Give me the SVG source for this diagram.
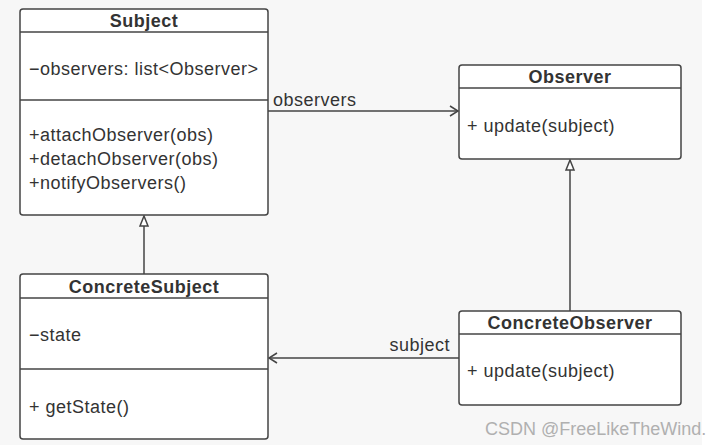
<svg xmlns="http://www.w3.org/2000/svg" width="726" height="445" viewBox="0 0 726 445">
<style>
.box{fill:#fff;stroke:#444;stroke-width:1.5}
.ln{stroke:#444;stroke-width:1.5;fill:none}
.t{font-family:"Liberation Sans",Arial,sans-serif;font-size:18px;fill:#333;letter-spacing:0.5px}
.b{font-weight:bold;text-anchor:middle;letter-spacing:0.5px}
.wm{font-family:"Liberation Sans",Arial,sans-serif;font-size:18px;fill:#b0b0b0}
</style>
<defs>
<marker id="open" markerWidth="12" markerHeight="12" refX="10" refY="6" orient="auto" markerUnits="userSpaceOnUse">
<path d="M2,1 L10,6 L2,11" fill="none" stroke="#444" stroke-width="1.5"/>
</marker>
</defs>
<rect x="0" y="0" width="726" height="445" fill="#fff"/>
<rect x="0" y="0" width="702" height="445" fill="#f7f7f7"/>
<g id="connectors">
<line class="ln" x1="268" y1="111" x2="458" y2="111" marker-end="url(#open)"/>
<text class="t" x="273" y="106">observers</text>
<line class="ln" x1="459" y1="358" x2="269" y2="358" marker-end="url(#open)"/>
<text class="t" x="450" y="351" text-anchor="end">subject</text>
<line class="ln" x1="144" y1="274" x2="144" y2="226"/>
<path d="M144,216 L148,226 L140,226 Z" fill="#fff" stroke="#444" stroke-width="1.5"/>
<line class="ln" x1="570" y1="311" x2="570" y2="170"/>
<path d="M570,160 L574,170 L566,170 Z" fill="#fff" stroke="#444" stroke-width="1.5"/>
</g>
<g id="Subject">
<rect class="box" x="20" y="9" width="248" height="206" rx="3"/>
<line class="ln" x1="20" y1="32" x2="268" y2="32"/>
<line class="ln" x1="20" y1="100" x2="268" y2="100"/>
<text class="t b" x="144" y="27">Subject</text>
<text class="t" x="29" y="75">−observers: list&lt;Observer&gt;</text>
<text class="t" x="29" y="141">+attachObserver(obs)</text>
<text class="t" x="29" y="165">+detachObserver(obs)</text>
<text class="t" x="29" y="189">+notifyObservers()</text>
</g>
<g id="Observer">
<rect class="box" x="459" y="65" width="222" height="94" rx="3"/>
<line class="ln" x1="459" y1="88" x2="681" y2="88"/>
<text class="t b" x="570" y="83">Observer</text>
<text class="t" x="467" y="132">+ update(subject)</text>
</g>
<g id="ConcreteSubject">
<rect class="box" x="20" y="274" width="248" height="165" rx="3"/>
<line class="ln" x1="20" y1="298" x2="268" y2="298"/>
<line class="ln" x1="20" y1="369" x2="268" y2="369"/>
<text class="t b" x="144" y="293">ConcreteSubject</text>
<text class="t" x="29" y="341">−state</text>
<text class="t" x="29" y="413">+ getState()</text>
</g>
<g id="ConcreteObserver">
<rect class="box" x="459" y="311" width="222" height="94" rx="3"/>
<line class="ln" x1="459" y1="334" x2="681" y2="334"/>
<text class="t b" x="570" y="329">ConcreteObserver</text>
<text class="t" x="467" y="377">+ update(subject)</text>
</g>
<text class="wm" x="485" y="435">CSDN @FreeLikeTheWind.</text>
</svg>
